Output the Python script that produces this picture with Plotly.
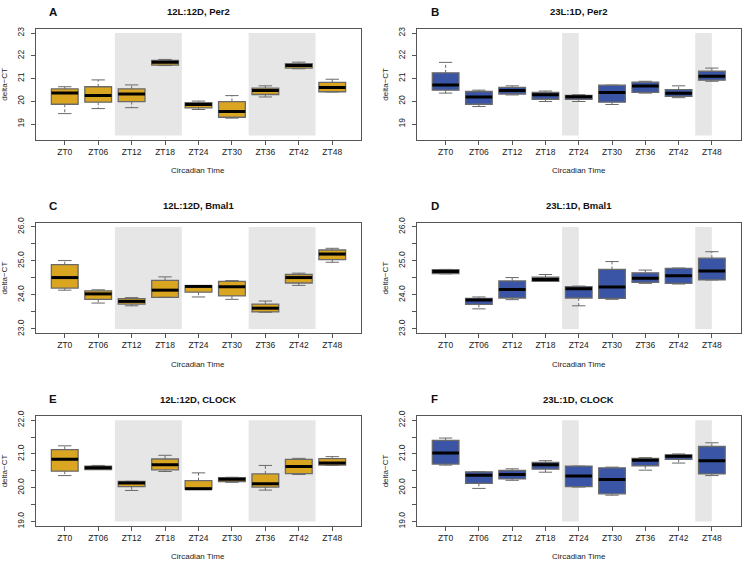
import plotly.graph_objects as go

# ---------------- data ----------------
zt_labels = ["ZT0", "ZT06", "ZT12", "ZT18", "ZT24", "ZT30", "ZT36", "ZT42", "ZT48"]
zt_pos = [1, 2, 3, 4, 5, 6, 7, 8, 9]

# Panel A: 12L:12D, Per2
a_low = [19.46, 19.68, 19.72, 21.57, 19.64, 19.26, 20.19, 21.43, 20.41]
a_q1 = [19.87, 19.96, 19.99, 21.59, 19.71, 19.30, 20.30, 21.46, 20.42]
a_med = [20.36, 20.26, 20.32, 21.72, 19.86, 19.55, 20.48, 21.57, 20.61]
a_q3 = [20.55, 20.64, 20.55, 21.80, 19.94, 19.99, 20.58, 21.65, 20.83]
a_up = [20.64, 20.94, 20.72, 21.84, 20.01, 20.25, 20.68, 21.72, 20.97]

# Panel B: 23L:1D, Per2
b_low = [20.36, 19.77, 20.28, 19.99, 19.99, 19.86, 20.36, 20.16, 20.88]
b_q1 = [20.49, 19.87, 20.32, 20.09, 20.09, 19.96, 20.39, 20.22, 20.93]
b_med = [20.72, 20.19, 20.48, 20.29, 20.20, 20.39, 20.67, 20.35, 21.10]
b_q3 = [21.25, 20.43, 20.61, 20.39, 20.26, 20.71, 20.84, 20.51, 21.32]
b_up = [21.71, 20.49, 20.68, 20.45, 20.29, 20.71, 20.88, 20.68, 21.46]

# Panel C: 12L:12D, Bmal1
c_low = [24.14, 23.76, 23.68, 23.93, 23.94, 23.87, 23.49, 24.28, 24.96]
c_q1 = [24.20, 23.87, 23.73, 23.93, 24.08, 23.97, 23.50, 24.35, 25.04]
c_med = [24.51, 24.03, 23.81, 24.14, 24.25, 24.24, 23.61, 24.51, 25.20]
c_q3 = [24.89, 24.12, 23.89, 24.43, 24.27, 24.40, 23.73, 24.60, 25.32]
c_up = [25.01, 24.15, 23.92, 24.53, 24.27, 24.42, 23.82, 24.64, 25.37]

# Panel D: 23L:1D, Bmal1
d_low = [24.62, 23.59, 23.86, 24.40, 23.68, 23.87, 24.34, 24.32, 24.44]
d_q1 = [24.63, 23.72, 23.91, 24.40, 23.91, 23.90, 24.37, 24.34, 24.44]
d_med = [24.69, 23.85, 24.16, 24.45, 24.18, 24.23, 24.49, 24.56, 24.70]
d_q3 = [24.74, 23.90, 24.41, 24.52, 24.24, 24.75, 24.65, 24.78, 25.08]
d_up = [24.75, 23.94, 24.51, 24.60, 24.26, 24.98, 24.73, 24.79, 25.27]

# Panel E: 12L:12D, CLOCK
e_low = [20.36, 20.54, 19.92, 20.48, 19.96, 20.16, 19.93, 20.39, 20.66]
e_q1 = [20.49, 20.54, 20.03, 20.53, 19.96, 20.18, 20.02, 20.42, 20.67]
e_med = [20.84, 20.59, 20.14, 20.68, 19.97, 20.25, 20.12, 20.63, 20.73]
e_q3 = [21.13, 20.64, 20.19, 20.85, 20.21, 20.30, 20.41, 20.84, 20.86]
e_up = [21.24, 20.66, 20.19, 20.96, 20.44, 20.31, 20.66, 20.87, 20.92]

# Panel F: 23L:1D, CLOCK
f_low = [20.67, 19.98, 20.22, 20.46, 20.02, 19.78, 20.52, 20.73, 20.36]
f_q1 = [20.70, 20.13, 20.26, 20.55, 20.03, 19.82, 20.65, 20.84, 20.41]
f_med = [21.03, 20.37, 20.39, 20.68, 20.35, 20.24, 20.81, 20.93, 20.80]
f_q3 = [21.40, 20.47, 20.51, 20.75, 20.64, 20.59, 20.87, 20.97, 21.22]
f_up = [21.47, 20.47, 20.56, 20.80, 20.64, 20.61, 20.89, 21.00, 21.33]

# dark-phase shading intervals (in box positions) and y limits
dark_12 = [(2.5, 4.5), (6.5, 8.5)]
dark_23 = [(4.5, 5.0), (8.5, 9.0)]
ylim_per2 = (18.5, 23.0)
ylim_bmal1 = (23.0, 26.0)
ylim_clock = (19.0, 22.0)
yticks_per2 = [19, 20, 21, 22, 23]
yticks_bmal1 = [23.0, 23.5, 24.0, 24.5, 25.0, 25.5, 26.0]
yticks_clock = [19.0, 19.5, 20.0, 20.5, 21.0, 21.5, 22.0]

# ---------------- styling ----------------
W, H = 742, 566
GOLD = "#DAA520"
BLUE = "#3A55A5"
BORDER = "#6A6A6A"
FRAME = "#555555"
SHADE = "#E6E6E6"
FONT = "Liberation Sans, Arial, sans-serif"

def fmt_ticks(vals, decimals):
    out = []
    for v in vals:
        if decimals == 0:
            out.append(str(int(v)))
        else:
            out.append(f"{v:.1f}" if abs(v - round(v)) < 1e-9 else "")
    return out

panels = [
    dict(letter="A", title="12L:12D, Per2", color=GOLD, stats=(a_low, a_q1, a_med, a_q3, a_up),
         ylim=ylim_per2, yt=yticks_per2, dec=0, dark=dark_12, col=0, row=0),
    dict(letter="B", title="23L:1D, Per2", color=BLUE, stats=(b_low, b_q1, b_med, b_q3, b_up),
         ylim=ylim_per2, yt=yticks_per2, dec=0, dark=dark_23, col=1, row=0),
    dict(letter="C", title="12L:12D, Bmal1", color=GOLD, stats=(c_low, c_q1, c_med, c_q3, c_up),
         ylim=ylim_bmal1, yt=yticks_bmal1, dec=1, dark=dark_12, col=0, row=1),
    dict(letter="D", title="23L:1D, Bmal1", color=BLUE, stats=(d_low, d_q1, d_med, d_q3, d_up),
         ylim=ylim_bmal1, yt=yticks_bmal1, dec=1, dark=dark_23, col=1, row=1),
    dict(letter="E", title="12L:12D, CLOCK", color=GOLD, stats=(e_low, e_q1, e_med, e_q3, e_up),
         ylim=ylim_clock, yt=yticks_clock, dec=1, dark=dark_12, col=0, row=2),
    dict(letter="F", title="23L:1D, CLOCK", color=BLUE, stats=(f_low, f_q1, f_med, f_q3, f_up),
         ylim=ylim_clock, yt=yticks_clock, dec=1, dark=dark_23, col=1, row=2),
]

# plot-area pixel boxes
col_px = [(36.0, 361.0), (417.0, 740.5)]
row_px = [(23.3, 135.7), (220.3, 332.3), (416.7, 528.0)]

BOXW = 0.8
STAPLE = 0.2

fig = go.Figure()
layout = dict(
    width=W, height=H, margin=dict(l=0, r=0, t=0, b=0),
    paper_bgcolor="white", plot_bgcolor="white", showlegend=False,
    font=dict(family=FONT, color="#222222"),
)
shapes = []
annotations = []

for i, p in enumerate(panels, start=1):
    xa = "x" if i == 1 else f"x{i}"
    ya = "y" if i == 1 else f"y{i}"
    low, q1, med, q3, up = p["stats"]
    x0, x1 = col_px[p["col"]]
    y0, y1 = row_px[p["row"]]

    fig.add_trace(go.Box(
        x=zt_pos, q1=q1, median=med, q3=q3, lowerfence=q1, upperfence=q3,
        width=BOXW, fillcolor=p["color"], line=dict(color=BORDER, width=1.3),
        whiskerwidth=0, boxpoints=False, hoverinfo="skip",
        xaxis=xa, yaxis=ya,
    ))

    wx, wy, sx, sy, mx, my = [], [], [], [], [], []
    for xp, lo, a, m, b, hi in zip(zt_pos, low, q1, med, q3, up):
        wx += [xp, xp, None, xp, xp, None]
        wy += [b, hi, None, a, lo, None]
        sx += [xp - STAPLE, xp + STAPLE, None, xp - STAPLE, xp + STAPLE, None]
        sy += [hi, hi, None, lo, lo, None]
        mx += [xp - BOXW / 2, xp + BOXW / 2, None]
        my += [m, m, None]
    fig.add_trace(go.Scatter(x=wx, y=wy, mode="lines", hoverinfo="skip",
                             line=dict(color=BORDER, width=1, dash="3px,2px"),
                             xaxis=xa, yaxis=ya))
    fig.add_trace(go.Scatter(x=sx, y=sy, mode="lines", hoverinfo="skip",
                             line=dict(color=BORDER, width=1), xaxis=xa, yaxis=ya))
    fig.add_trace(go.Scatter(x=mx, y=my, mode="lines", hoverinfo="skip",
                             line=dict(color="black", width=3), xaxis=xa, yaxis=ya))

    ylo, yhi = p["ylim"]
    pad = 0.04 * (yhi - ylo)
    xlo, xhi = 0.5, 9.5
    xpad = 0.04 * (xhi - xlo)

    for (d0, d1) in p["dark"]:
        shapes.append(dict(type="rect", xref=xa, yref=ya, x0=d0, x1=d1, y0=ylo, y1=yhi,
                           fillcolor=SHADE, line=dict(width=0), layer="below"))

    axis_common = dict(showgrid=False, zeroline=False, showline=True, mirror=True,
                       linecolor=FRAME, linewidth=1, ticks="outside", ticklen=4,
                       tickcolor=FRAME, tickwidth=1, tickfont=dict(size=8.5, color="#222222", family=FONT))
    layout["xaxis" if i == 1 else f"xaxis{i}"] = dict(
        axis_common, domain=[x0 / W, x1 / W], anchor=ya,
        range=[xlo - xpad, xhi + xpad], tickmode="array", tickvals=zt_pos, ticktext=zt_labels,
        ticklabelstandoff=0,
    )
    layout["yaxis" if i == 1 else f"yaxis{i}"] = dict(
        axis_common, domain=[1 - y1 / H, 1 - y0 / H], anchor=xa,
        range=[ylo - pad, yhi + pad], tickmode="array", tickvals=p["yt"],
        ticktext=fmt_ticks(p["yt"], p["dec"]), tickangle=-90, ticklabelstandoff=4,
    )

    cx = (x0 + x1) / 2
    annotations.append(dict(text=f"<b>{p['title']}</b>", x=cx / W, y=1 - (y0 - 17.3) / H,
                            xref="paper", yref="paper", showarrow=False,
                            xanchor="center", yanchor="middle",
                            font=dict(size=9.5, color="#111111", family=FONT)))
    annotations.append(dict(text=f"<b>{p['letter']}</b>", x=(x0 + 17.5) / W, y=1 - (y0 - 17.5) / H,
                            xref="paper", yref="paper", showarrow=False,
                            xanchor="center", yanchor="middle",
                            font=dict(size=11.5, color="#111111", family=FONT)))
    annotations.append(dict(text="Circadian Time", x=cx / W, y=1 - (y1 + 31.5) / H,
                            xref="paper", yref="paper", showarrow=False,
                            xanchor="center", yanchor="middle",
                            font=dict(size=8, color="#222222", family=FONT)))
    annotations.append(dict(text="delta\u2212CT", x=(x0 - 31.5) / W, y=1 - ((y0 + y1) / 2) / H,
                            xref="paper", yref="paper", showarrow=False, textangle=-90,
                            xanchor="center", yanchor="middle",
                            font=dict(size=8, color="#222222", family=FONT)))

layout["shapes"] = shapes
layout["annotations"] = annotations
fig.update_layout(**layout)

pin_script = (
    "document.documentElement.style.margin='0';"
    "document.body.style.margin='0';document.body.style.overflow='hidden';"
    "var gd=document.getElementById('{plot_id}');"
    "gd.style.position='fixed';gd.style.left='0px';gd.style.top='0px';"
)
fig.write_html("out.html", post_script=pin_script, config={"displayModeBar": False})
